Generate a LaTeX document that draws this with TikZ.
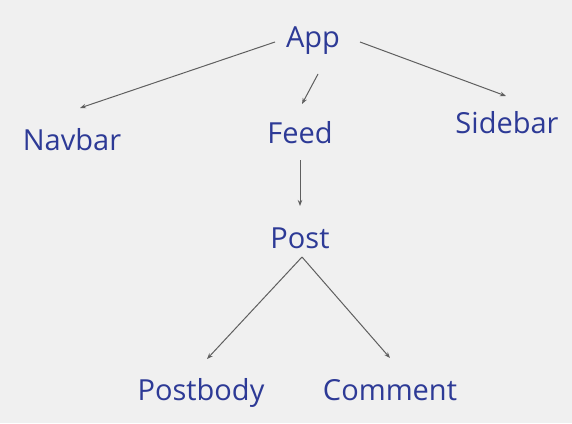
\documentclass[tikz,border=0pt]{standalone}
\usepackage{fontspec}
\setmainfont{Open Sans}
\usetikzlibrary{arrows.meta}
\definecolor{txtblue}{RGB}{45,58,150}
\definecolor{bg}{RGB}{240,240,240}
\definecolor{linegray}{RGB}{95,95,95}
\tikzset{
  lbl/.style={anchor=base, inner sep=0pt, text=txtblue, font=\fontsize{29}{31}\selectfont},
  arr/.style={draw=linegray, line width=1pt, -{Stealth[length=6pt,width=4.5pt]}}
}
\begin{document}
\begin{tikzpicture}[x=1pt,y=-1pt]
\fill[bg] (0,0) rectangle (572,423);
\useasboundingbox (0,0) rectangle (572,423);
\node[lbl] (app) at (313,47) {App};
\node[lbl] (navbar) at (72,150) {Navbar};
\node[lbl] (feed) at (300,143) {Feed};
\node[lbl] (sidebar) at (507,133) {Sidebar};
\node[lbl] (post) at (300,248) {Post};
\node[lbl] (postbody) at (201,400) {Postbody};
\node[lbl] (comment) at (390,400) {Comment};
\draw[arr] ([shift={(-38,-5)}]app.base) -- ([shift={(8,-42)}]navbar.base);
\draw[arr] ([shift={(5,27)}]app.base) -- ([shift={(2,-39)}]feed.base);
\draw[arr] ([shift={(47,-5)}]app.base) -- ([shift={(-1,-37)}]sidebar.base);
\draw[arr] ([shift={(0,17)}]feed.base) -- ([shift={(0,-42)}]post.base);
\draw[arr] ([shift={(2,9)}]post.base) -- ([shift={(6,-41)}]postbody.base);
\draw[arr] ([shift={(2,9)}]post.base) -- ([shift={(0,-42)}]comment.base);
\end{tikzpicture}
\end{document}
